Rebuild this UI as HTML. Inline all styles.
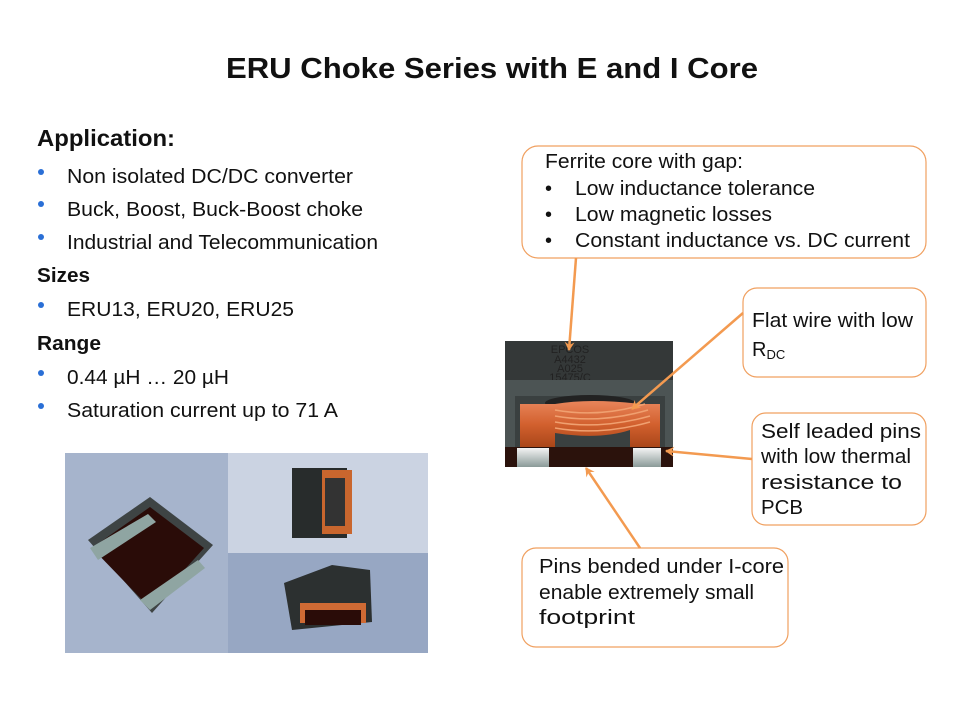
<!DOCTYPE html>
<html><head><meta charset="utf-8"><style>
html,body{margin:0;padding:0;background:#fff;}
svg{display:block;}
text{font-family:"Liberation Sans",Arial,sans-serif;fill:#111;}
</style></head><body>
<svg width="960" height="720" viewBox="0 0 960 720" xmlns="http://www.w3.org/2000/svg">
<defs>
<linearGradient id="cu" x1="0" y1="0" x2="0" y2="1"><stop offset="0" stop-color="#e8855a"/><stop offset="0.5" stop-color="#d2602e"/><stop offset="1" stop-color="#a84518"/></linearGradient>
<linearGradient id="pin" x1="0" y1="0" x2="0" y2="1"><stop offset="0" stop-color="#f4f4f4"/><stop offset="1" stop-color="#8a9a98"/></linearGradient>
<marker id="ah" markerWidth="10" markerHeight="10" refX="8" refY="5" orient="auto" markerUnits="userSpaceOnUse"><path d="M0,0 L9,5 L0,10 L3,5 Z" fill="#f39a50"/></marker>
</defs>
<text x="226" y="78" font-size="29" font-weight="bold" textLength="532" lengthAdjust="spacingAndGlyphs">ERU Choke Series with E and I Core</text>

<text x="37" y="146" font-size="23" font-weight="bold" textLength="138" lengthAdjust="spacingAndGlyphs">Application:</text>
<g font-size="20">
<circle cx="41" cy="172" r="3" fill="#2a6fd6"/><text x="67" y="183" textLength="286" lengthAdjust="spacingAndGlyphs">Non isolated DC/DC converter</text>
<circle cx="41" cy="204" r="3" fill="#2a6fd6"/><text x="67" y="216" textLength="296" lengthAdjust="spacingAndGlyphs">Buck, Boost, Buck-Boost choke</text>
<circle cx="41" cy="237" r="3" fill="#2a6fd6"/><text x="67" y="249" textLength="311" lengthAdjust="spacingAndGlyphs">Industrial and Telecommunication</text>
<text x="37" y="282" font-weight="bold" textLength="53" lengthAdjust="spacingAndGlyphs">Sizes</text>
<circle cx="41" cy="305" r="3" fill="#2a6fd6"/><text x="67" y="316" textLength="227" lengthAdjust="spacingAndGlyphs">ERU13, ERU20, ERU25</text>
<text x="37" y="350" font-weight="bold" textLength="64" lengthAdjust="spacingAndGlyphs">Range</text>
<circle cx="41" cy="373" r="3" fill="#2a6fd6"/><text x="67" y="384" textLength="162" lengthAdjust="spacingAndGlyphs">0.44 µH … 20 µH</text>
<circle cx="41" cy="406" r="3" fill="#2a6fd6"/><text x="67" y="417" textLength="271" lengthAdjust="spacingAndGlyphs">Saturation current up to 71 A</text>
</g>

<!-- photo panel -->
<rect x="65" y="453" width="163" height="200" fill="#a6b4cc"/>
<rect x="228" y="453" width="200" height="100" fill="#cbd3e2"/>
<rect x="228" y="553" width="200" height="100" fill="#97a7c3"/>
<polygon points="88,540 150,497 213,545 152,613" fill="#3e4444"/>
<polygon points="92,548 150,507 204,548 150,608" fill="#2a0c08"/>
<polygon points="90,548 148,514 156,522 98,560" fill="#8fa5a2"/>
<polygon points="140,600 198,560 205,568 150,610" fill="#8fa5a2"/>
<rect x="292" y="468" width="55" height="70" fill="#282c2c"/>
<rect x="322" y="470" width="30" height="64" fill="#c9662e"/>
<rect x="325" y="478" width="20" height="48" fill="#333"/>
<polygon points="284,583 332,565 370,570 372,622 292,630" fill="#2c3030"/>
<rect x="300" y="603" width="66" height="20" fill="#cf6a34"/>
<rect x="305" y="610" width="56" height="15" fill="#2a0c08"/>

<!-- component -->
<rect x="505" y="341" width="168" height="39" fill="#343838"/>
<g font-size="11" text-anchor="middle"><text x="570" y="353" style="fill:#222">EPCOS</text><text x="570" y="363" style="fill:#222">A4432</text><text x="570" y="372" style="fill:#222">A025</text><text x="570" y="381" style="fill:#222">15475/C</text></g>
<rect x="505" y="380" width="168" height="87" fill="#4c5454"/>
<rect x="515" y="396" width="150" height="52" fill="#3a4040"/>
<ellipse cx="590" cy="403" rx="45" ry="8" fill="#222"/>
<path d="M520,404 L555,404 Q590,398 640,404 L660,404 L660,448 L630,448 L630,430 Q600,440 555,433 L555,448 L520,448 Z" fill="url(#cu)"/>
<path d="M555,410 Q600,418 645,404 M555,416 Q600,424 648,410 M555,422 Q600,430 650,416 M555,428 Q600,436 650,422" stroke="#f0a070" stroke-width="1.5" fill="none"/>
<rect x="505" y="447" width="168" height="20" fill="#2b120c"/>
<rect x="517" y="448" width="32" height="19" fill="url(#pin)"/>
<rect x="633" y="448" width="28" height="19" fill="url(#pin)"/>

<!-- callouts -->
<g fill="#fff" stroke="#f0a060" stroke-width="1.2">
<rect x="522" y="146" width="404" height="112" rx="16"/>
<rect x="743" y="288" width="183" height="89" rx="14"/>
<rect x="752" y="413" width="174" height="112" rx="14"/>
<rect x="522" y="548" width="266" height="99" rx="14"/>
</g>
<g stroke="#f39a50" stroke-width="2.5" fill="none" marker-end="url(#ah)">
<line x1="576" y1="258" x2="569" y2="350"/>
<line x1="743" y1="313" x2="632" y2="409"/>
<line x1="752" y1="459" x2="666" y2="451"/>
<line x1="640" y1="548" x2="586" y2="468"/>
</g>
<g font-size="20">
<text x="545" y="168" textLength="198" lengthAdjust="spacingAndGlyphs">Ferrite core with gap:</text>
<text x="545" y="195">•</text><text x="575" y="195" textLength="240" lengthAdjust="spacingAndGlyphs">Low inductance tolerance</text>
<text x="545" y="221">•</text><text x="575" y="221" textLength="197" lengthAdjust="spacingAndGlyphs">Low magnetic losses</text>
<text x="545" y="247">•</text><text x="575" y="247" textLength="335" lengthAdjust="spacingAndGlyphs">Constant inductance vs. DC current</text>
<text x="752" y="327" textLength="161" lengthAdjust="spacingAndGlyphs">Flat wire with low</text>
<text x="752" y="356">R<tspan font-size="13" dy="3">DC</tspan></text>
<text x="761" y="438" textLength="160" lengthAdjust="spacingAndGlyphs">Self leaded pins</text>
<text x="761" y="463" textLength="150" lengthAdjust="spacingAndGlyphs">with low thermal</text>
<text x="761" y="489" textLength="141" lengthAdjust="spacingAndGlyphs">resistance to</text>
<text x="761" y="514" textLength="42" lengthAdjust="spacingAndGlyphs">PCB</text>
<text x="539" y="573" textLength="245" lengthAdjust="spacingAndGlyphs">Pins bended under I-core</text>
<text x="539" y="599" textLength="215" lengthAdjust="spacingAndGlyphs">enable extremely small</text>
<text x="539" y="624" textLength="96" lengthAdjust="spacingAndGlyphs">footprint</text>
</g>
</svg>
</body></html>
